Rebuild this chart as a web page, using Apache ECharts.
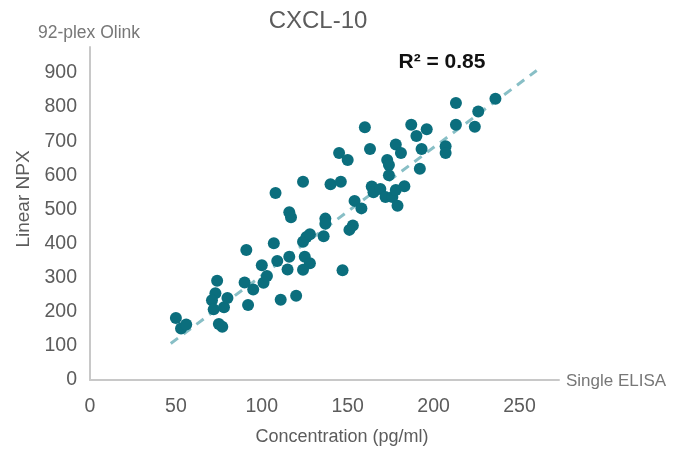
<!DOCTYPE html>
<html lang="en">
<head>
<meta charset="UTF-8">
<title>CXCL-10</title>
<script src="https://cdn.jsdelivr.net/npm/echarts@6/dist/echarts.min.js"></script>
<style>
  html, body { margin: 0; padding: 0; background: #fff; }
  #main { width: 679px; height: 450px; }
</style>
</head>
<body>
<div id="main"></div>
<script>
  // Single ELISA concentration (pg/ml) vs 92-plex Olink linear NPX
  var elisaX = [50, 53, 56, 74, 73, 71, 72, 78, 80, 75, 77,
    91, 90, 95, 92, 100, 101, 103, 107, 109, 111, 116, 115, 120,
    125, 128, 124, 124, 126, 128, 136, 137, 137, 116, 117, 108,
    124, 140, 146, 147, 153, 151, 154, 158, 145, 150, 160, 163,
    164, 165, 169, 172, 176, 178, 183, 179, 173, 174, 174, 178,
    181, 187, 196, 190, 193, 192, 207, 207, 213, 213, 224, 226, 236];
  var olinkY = [182, 151, 163, 291, 254, 234, 207, 213, 240, 164, 156,
    381, 286, 265, 220, 336, 285, 305, 401, 349, 235, 361, 324, 247,
    361, 342, 323, 405, 419, 427, 421, 473, 458, 492, 477, 548,
    581, 574, 581, 322, 453, 440, 525, 503, 665, 645, 741, 677,
    567, 550, 560, 536, 536, 557, 568, 511, 645, 630, 600, 690,
    665, 748, 735, 715, 677, 619, 685, 665, 812, 748, 742, 787, 824];
  // linear trend line ends
  var trendX = [47, 260];
  var trendY = [107, 907];
  var xTicks = [0, 50, 100, 150, 200, 250];
  var yTicks = [0, 100, 200, 300, 400, 500, 600, 700, 800, 900];

  var points = elisaX.map(function (x, i) { return [x, olinkY[i]]; });
  var trend = trendX.map(function (x, i) { return [x, trendY[i]]; });

  var chart = echarts.init(document.getElementById('main'));
  var grey = '#5c5c5c';
  var font = 'Liberation Sans';

  var option = {
    animation: false,
    grid: { left: 90, top: 47, width: 469, height: 333 },
    xAxis: {
      type: 'value',
      min: 0,
      max: 273,
      interval: 50,
      axisLine: { lineStyle: { color: '#c8c8c8', width: 2 } },
      axisTick: { show: false },
      splitLine: { show: false },
      axisLabel: {
        color: grey, fontSize: 19.5, fontFamily: font, margin: 17,
        showMaxLabel: false,
        formatter: function (v) { return xTicks.indexOf(v) >= 0 ? String(v) : ''; }
      }
    },
    yAxis: {
      type: 'value',
      min: 0,
      max: 976,
      interval: 100,
      axisLine: { show: true, lineStyle: { color: '#c8c8c8', width: 2 } },
      axisTick: { show: false },
      splitLine: { show: false },
      axisLabel: {
        color: grey, fontSize: 19.5, fontFamily: font, margin: 13,
        showMaxLabel: false,
        formatter: function (v) { return yTicks.indexOf(v) >= 0 ? String(v) : ''; }
      }
    },
    graphic: [
      {
        type: 'text', x: 318, y: 21,
        style: { text: 'CXCL-10', fill: grey, fontSize: 24, fontFamily: font, align: 'center', verticalAlign: 'middle' }
      },
      {
        type: 'text', x: 89, y: 33,
        style: { text: '92-plex Olink', fill: '#777', fontSize: 17.5, fontFamily: font, align: 'center', verticalAlign: 'middle' }
      },
      {
        type: 'text', x: 566, y: 381,
        style: { text: 'Single ELISA', fill: '#777', fontSize: 17, fontFamily: font, verticalAlign: 'middle' }
      },
      {
        type: 'text', x: 24, y: 199, rotation: Math.PI / 2,
        style: { text: 'Linear NPX', fill: grey, fontSize: 19, fontFamily: font, align: 'center', verticalAlign: 'middle' }
      },
      {
        type: 'text', x: 342, y: 437,
        style: { text: 'Concentration (pg/ml)', fill: grey, fontSize: 18, fontFamily: font, align: 'center', verticalAlign: 'middle' }
      },
      {
        type: 'text', x: 442, y: 62,
        style: { text: 'R² = 0.85', fill: '#111', fontSize: 21, fontWeight: 'bold', fontFamily: font, align: 'center', verticalAlign: 'middle' }
      }
    ],
    series: [
      {
        name: 'trend',
        type: 'line',
        data: trend,
        symbol: 'none',
        silent: true,
        lineStyle: { color: '#88bfc6', width: 3, type: [9, 7] },
        z: 1
      },
      {
        name: 'CXCL-10',
        type: 'scatter',
        data: points,
        symbolSize: 12,
        itemStyle: { color: '#0b6e7d', opacity: 1 },
        z: 2
      }
    ]
  };
  chart.setOption(option);
</script>
</body>
</html>
